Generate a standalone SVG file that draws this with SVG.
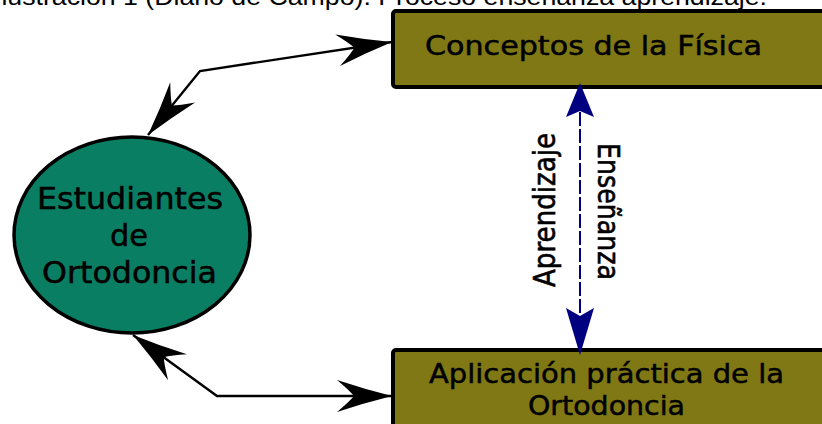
<svg xmlns="http://www.w3.org/2000/svg" width="822" height="424" viewBox="0 0 822 424">
<style>
.box{fill:#7f7815;stroke:#000;stroke-width:4}
.ell{fill:#0a7e63;stroke:#000;stroke-width:3.5}
.t{font-family:"DejaVu Sans",Verdana,sans-serif;fill:#000;stroke:#000;stroke-width:0.5}
.conn{fill:none;stroke:#000;stroke-width:2.4}
.dash{fill:none;stroke:#000080;stroke-width:2;stroke-dasharray:14 3}
.nav{fill:#000080}
</style>
<defs>
<marker id="stealth" markerUnits="userSpaceOnUse" viewBox="-60 -20 62 40" refX="0" refY="0" markerWidth="62" markerHeight="40" orient="auto-start-reverse">
<path d="M0,0 Q-28,-7 -55,-16 Q-43,-6 -38,0 Q-43,6 -55,16 Q-28,7 0,0 Z" fill="#000"/>
</marker>
</defs>
<text x="-6" y="5" font-family="Liberation Sans, Arial, sans-serif" font-size="24" textLength="773" lengthAdjust="spacingAndGlyphs">Ilustración 1 (Diario de Campo). Proceso enseñanza aprendizaje.</text>

<g id="connectors">
<path class="conn" d="M148,135 L200,71 L392,42" marker-start="url(#stealth)" marker-end="url(#stealth)"/>
<path class="conn" d="M133,335 L217,396 L392,396" marker-start="url(#stealth)" marker-end="url(#stealth)"/>
</g>

<g id="estudiantes">
<ellipse class="ell" cx="132" cy="235" rx="118" ry="98"/>
<text class="t" x="37" y="209" font-size="30" textLength="186" lengthAdjust="spacingAndGlyphs">Estudiantes</text>
<text class="t" x="110" y="246" font-size="30" textLength="38" lengthAdjust="spacingAndGlyphs">de</text>
<text class="t" x="42" y="283" font-size="30" textLength="175" lengthAdjust="spacingAndGlyphs">Ortodoncia</text>
</g>

<g id="conceptos">
<rect class="box" x="393" y="11" width="440" height="76" rx="3"/>
<text class="t" x="425" y="55" font-size="26" textLength="337" lengthAdjust="spacingAndGlyphs">Conceptos de la Física</text>
</g>

<g id="aplicacion">
<rect class="box" x="393" y="350" width="440" height="90" rx="3"/>
<text class="t" x="429" y="383" font-size="27" textLength="355" lengthAdjust="spacingAndGlyphs">Aplicación práctica de la</text>
<text class="t" x="528" y="415" font-size="27" textLength="157" lengthAdjust="spacingAndGlyphs">Ortodoncia</text>
</g>

<g id="ensenanza-aprendizaje">
<path class="dash" d="M580,112 L580,315"/>
<path class="nav" d="M580,83 L594,117 L580,111 L566,117 Z"/>
<path class="nav" d="M580,355 L594,308 L580,316 L566,308 Z"/>
<text class="t" transform="translate(555,287) scale(1.2,1) rotate(-90)" font-size="25" textLength="154" lengthAdjust="spacingAndGlyphs">Aprendizaje</text>
<text class="t" transform="translate(598,143) scale(1.2,1) rotate(90)" font-size="25" textLength="137" lengthAdjust="spacingAndGlyphs">Enseñanza</text>
</g>
</svg>
